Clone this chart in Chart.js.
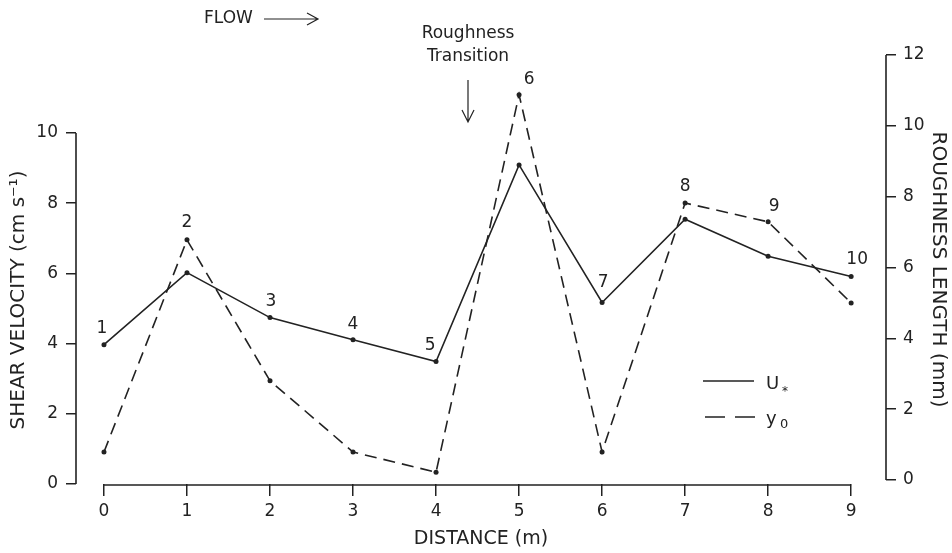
<!DOCTYPE html>
<html><head><meta charset="utf-8">
<script src="https://cdn.jsdelivr.net/npm/chart.js@4/dist/chart.umd.min.js"></script>
<style>html,body{margin:0;padding:0;background:#fff;} #wrap{width:952px;height:553px;}</style>
</head><body><div id="wrap"><canvas id="c" width="952" height="553"></canvas></div>
<script>
// ---- data ----
const distance = [0, 1, 2, 3, 4, 5, 6, 7, 8, 9];
const shearVelocity = [3.97, 6.02, 4.74, 4.11, 3.49, 9.09, 5.17, 7.54, 6.49, 5.91];
const roughnessLength = [0.79, 6.78, 2.80, 0.79, 0.22, 10.88, 0.79, 7.82, 7.29, 5.00];
const stationLabels = ['1', '2', '3', '4', '5', '6', '7', '8', '9', '10'];
const xTicks = [0, 1, 2, 3, 4, 5, 6, 7, 8, 9];
const leftTicks = [0, 2, 4, 6, 8, 10];
const rightTicks = [0, 2, 4, 6, 8, 10, 12];

// ---- styling ----
const INK = '#222';
const FONT = 'DejaVu Sans';
// which series each station label is attached to, and its offset in px
const labelAnchor = ['u', 'y', 'u', 'u', 'u', 'y', 'u', 'y', 'y', 'u'];
const labelOffset = [[-2, -16], [0, -17], [1, -16], [0, -15], [-6, -16], [10, -15], [1, -20], [0, -16], [6, -15], [6, -17]];

const annot = {
  id: 'annot',
  afterDatasetsDraw(chart) {
    const ctx = chart.ctx;
    const xs = chart.scales.x, yl = chart.scales.yL, yr = chart.scales.yR;
    const ca = chart.chartArea;
    ctx.save();
    ctx.strokeStyle = INK; ctx.fillStyle = INK; ctx.lineWidth = 1.6; ctx.setLineDash([]);
    // axis lines
    ctx.beginPath();
    const xb = ca.bottom + 1;
    ctx.moveTo(xs.getPixelForValue(xTicks[0]), xb); ctx.lineTo(xs.getPixelForValue(xTicks[xTicks.length - 1]), xb);
    ctx.moveTo(ca.left, yl.getPixelForValue(leftTicks[0])); ctx.lineTo(ca.left, yl.getPixelForValue(leftTicks[leftTicks.length - 1]));
    ctx.moveTo(ca.right, yr.getPixelForValue(rightTicks[0])); ctx.lineTo(ca.right, yr.getPixelForValue(rightTicks[rightTicks.length - 1]));
    ctx.stroke();

    // station labels
    ctx.font = '17px "' + FONT + '"';
    ctx.textAlign = 'center'; ctx.textBaseline = 'middle';
    const mu = chart.getDatasetMeta(0).data, my = chart.getDatasetMeta(1).data;
    stationLabels.forEach((t, i) => {
      const p = labelAnchor[i] === 'u' ? mu[i] : my[i];
      ctx.fillText(t, p.x + labelOffset[i][0], p.y + labelOffset[i][1]);
    });

    // left axis title
    ctx.save();
    ctx.translate(19, 300); ctx.rotate(-Math.PI / 2);
    ctx.font = '20px "' + FONT + '"';
    ctx.fillText('SHEAR VELOCITY (cm s\u207B\u00B9)', 0, 0);
    ctx.restore();

    // FLOW arrow
    ctx.font = '17px "' + FONT + '"';
    ctx.textAlign = 'left';
    ctx.fillText('FLOW', 204, 19);
    ctx.lineWidth = 1.2;
    ctx.beginPath(); ctx.moveTo(264, 19); ctx.lineTo(317, 19);
    ctx.moveTo(307, 13); ctx.lineTo(318, 19); ctx.lineTo(307, 25); ctx.stroke();

    // roughness transition
    ctx.textAlign = 'center';
    ctx.fillText('Roughness', 468, 34);
    ctx.fillText('Transition', 468, 57);
    ctx.beginPath(); ctx.moveTo(468, 80); ctx.lineTo(468, 121);
    ctx.moveTo(462, 110); ctx.lineTo(468, 122); ctx.lineTo(474, 110); ctx.stroke();

    // legend
    ctx.lineWidth = 1.6;
    ctx.beginPath(); ctx.moveTo(703, 381); ctx.lineTo(754, 381); ctx.stroke();
    ctx.setLineDash([20, 10]);
    ctx.beginPath(); ctx.moveTo(705, 417); ctx.lineTo(755, 417); ctx.stroke();
    ctx.setLineDash([]);
    ctx.textAlign = 'left'; ctx.font = '18px "' + FONT + '"';
    ctx.fillText('U', 766, 384);
    ctx.font = '12px "' + FONT + '"'; ctx.fillText('*', 782, 392);
    ctx.font = '18px "' + FONT + '"'; ctx.fillText('y', 766, 419);
    ctx.font = '13px "' + FONT + '"'; ctx.fillText('0', 780, 425);
    ctx.restore();
  }
};

const pts = arr => distance.map((d, i) => ({ x: d, y: arr[i] }));

new Chart(document.getElementById('c'), {
  type: 'line',
  data: {
    datasets: [
      { label: 'U*', data: pts(shearVelocity), yAxisID: 'yL', borderColor: INK, backgroundColor: INK,
        borderWidth: 1.6, pointRadius: 2.5, pointBackgroundColor: INK, pointBorderWidth: 0, tension: 0 },
      { label: 'y0', data: pts(roughnessLength), yAxisID: 'yR', borderColor: INK, backgroundColor: INK,
        borderWidth: 1.6, borderDash: [12, 7], pointRadius: 2.5, pointBackgroundColor: INK, pointBorderWidth: 0, tension: 0 }
    ]
  },
  options: {
    responsive: false, animation: false, devicePixelRatio: 1,
    layout: { padding: { top: 55, left: 0, right: 0, bottom: 0 } },
    plugins: { legend: { display: false }, tooltip: { enabled: false } },
    scales: {
      x: {
        type: 'linear', min: -0.337, max: 9.42,
        afterBuildTicks: s => { s.ticks = xTicks.map(v => ({ value: v })); },
        afterFit: s => { s.height = 69; },
        ticks: { color: INK, font: { family: FONT, size: 17 }, padding: 5, autoSkip: false, maxRotation: 0 },
        grid: { drawOnChartArea: false, drawTicks: true, tickLength: 12, color: INK, lineWidth: 1.5 },
        border: { display: false },
        title: { display: true, text: 'DISTANCE (m)', color: INK, font: { family: FONT, size: 19 }, padding: { top: 0, bottom: 3 } }
      },
      yL: {
        type: 'linear', position: 'left', min: 0, max: 12.22,
        afterBuildTicks: s => { s.ticks = leftTicks.map(v => ({ value: v })); },
        afterFit: s => { s.width = 76; },
        ticks: { color: INK, font: { family: FONT, size: 17 }, padding: 8 },
        grid: { drawOnChartArea: false, drawTicks: true, tickLength: 10, color: INK, lineWidth: 1.5 },
        border: { display: false }
      },
      yR: {
        type: 'linear', position: 'right', min: -0.113, max: 12,
        afterBuildTicks: s => { s.ticks = rightTicks.map(v => ({ value: v })); },
        afterFit: s => { s.width = 66; },
        ticks: { color: INK, font: { family: FONT, size: 17 }, padding: 7 },
        grid: { drawOnChartArea: false, drawTicks: true, tickLength: 10, color: INK, lineWidth: 1.5 },
        border: { display: false },
        title: { display: true, text: 'ROUGHNESS LENGTH (mm)', color: INK, font: { family: FONT, size: 20 }, padding: { top: 2, bottom: 0 } }
      }
    }
  },
  plugins: [annot]
});
</script></body></html>
